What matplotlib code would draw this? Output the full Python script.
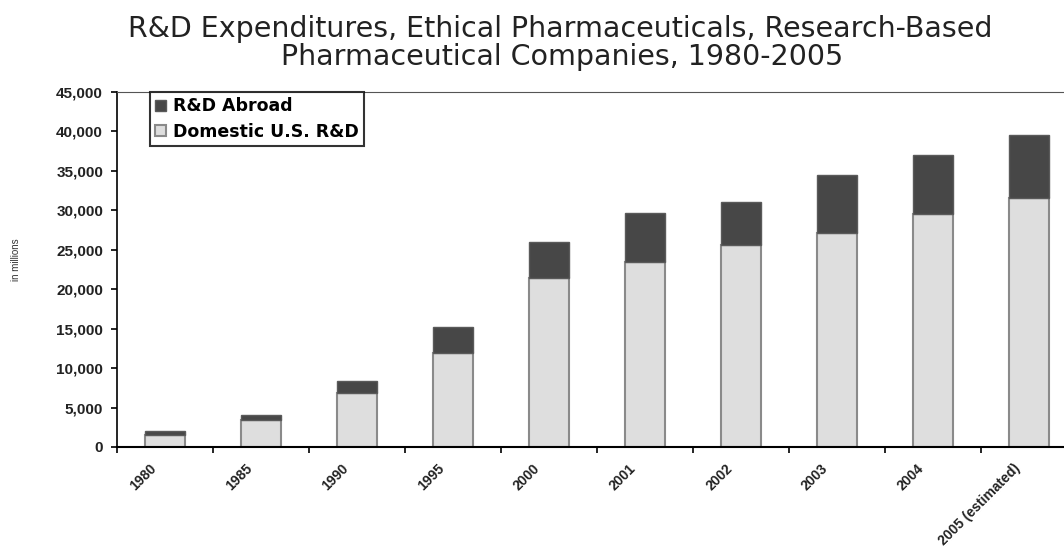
import matplotlib
matplotlib.use("Agg")
import matplotlib.pyplot as plt
from matplotlib.ticker import FuncFormatter, FixedLocator
from matplotlib.transforms import ScaledTranslation
import numpy as np

categories = ["1980", "1985", "1990", "1995", "2000", "2001", "2002", "2003", "2004", "2005 (estimated)"]
domestic = [1549, 3379, 6803, 11874, 21364, 23502, 25655, 27064, 29555, 31600]
abroad = [427, 694, 1617, 3334, 4667, 6220, 5357, 7388, 7462, 7900]

title1 = "R&D Expenditures, Ethical Pharmaceuticals, Research-Based"
title2 = "Pharmaceutical Companies, 1980-2005"

plt.rcParams['font.family'] = ['Liberation Sans', 'DejaVu Sans']
W, H = 1064, 550

fig = plt.figure(figsize=(W / 100, H / 100), dpi=100)
ax = fig.add_axes([117 / W, 1 - 447 / H, 960 / W, 355 / H])

x = np.arange(len(categories))
w = 0.42
dom_color = "#dedede"
abr_color = "#474747"
b1 = ax.bar(x, domestic, w, color=dom_color, edgecolor="#8a8a8a", linewidth=1.5, label="Domestic U.S. R&D")
b2 = ax.bar(x, abroad, w, bottom=domestic, color=abr_color, edgecolor="#5a5a5a", linewidth=1.0, label="R&D Abroad")

ax.set_xlim(-0.5, len(categories) - 0.5)
ax.set_ylim(0, 45000)
ax.set_yticks(np.arange(0, 45001, 5000))
ax.yaxis.set_major_formatter(FuncFormatter(lambda v, p: f"{int(v):,}"))

ax.set_xticks(x)
ax.set_xticklabels(categories, rotation=45, ha="right", rotation_mode="anchor",
                   fontsize=10, fontweight="bold", color="#222222")
ax.tick_params(axis="x", which="major", length=0, pad=14)
offset = ScaledTranslation(-0.16, 0.05, fig.dpi_scale_trans)
for lab in ax.get_xticklabels():
    lab.set_transform(lab.get_transform() + offset)
ax.xaxis.set_minor_locator(FixedLocator(np.arange(-0.5, len(categories), 1.0)))
ax.tick_params(axis="x", which="minor", length=4, width=1.2, direction="out")
ax.tick_params(axis="y", length=4, width=1.2, direction="out", labelsize=11, pad=6)
for lab in ax.get_yticklabels():
    lab.set_fontweight("bold")
    lab.set_color("#222222")

ax.spines["right"].set_visible(False)
ax.spines["top"].set_linewidth(0.8)
ax.spines["top"].set_color("#555555")
ax.spines["left"].set_linewidth(1.2)
ax.spines["bottom"].set_linewidth(1.5)

fig.text(16 / W, 1 - 260 / H, "in millions", rotation=90, fontsize=7,
         ha="center", va="center", color="#333333")

leg = ax.legend(handles=[b2, b1], loc="upper left", bbox_to_anchor=(33 / 960, 1.0),
                frameon=True, fancybox=False, handlelength=0.6,
                handleheight=0.6, handletextpad=0.4, borderpad=0.3, labelspacing=0.45,
                borderaxespad=0.0,
                prop={"family": "DejaVu Sans", "weight": "bold", "size": 12.5})
leg.get_frame().set_edgecolor("black")
leg.get_frame().set_linewidth(1.5)

fig.text(560 / W, 1 - 37 / H, title1, ha="center", va="baseline",
         fontsize=20.5, family="DejaVu Sans", color="#222222")
fig.text(562 / W, 1 - 65 / H, title2, ha="center", va="baseline",
         fontsize=20.5, family="DejaVu Sans", color="#222222")

fig.savefig("out.png", dpi=100)
